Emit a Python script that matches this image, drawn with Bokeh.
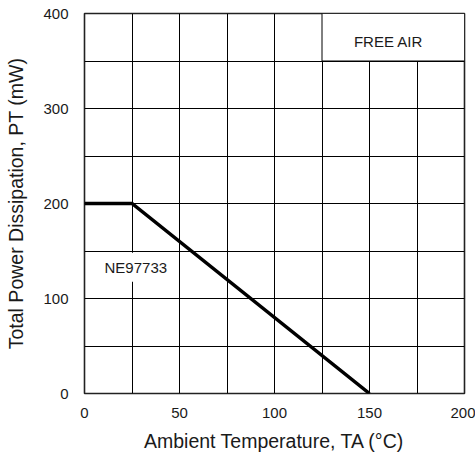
from bokeh.plotting import figure
from bokeh.models import FixedTicker, Label, BoxAnnotation
from bokeh.embed import file_html
from bokeh.resources import INLINE

# Data: derating curve for NE97733
temperature = [0, 25, 150]
power = [200, 200, 0]

x_ticks = [0, 50, 100, 150, 200]
y_ticks = [0, 100, 200, 300, 400]
x_grid = [0, 25, 50, 75, 100, 125, 150, 175, 200]
y_grid = [0, 50, 100, 150, 200, 250, 300, 350, 400]

FONT = "Liberation Sans"
TXT = "#1a1a1a"

p = figure(width=475, height=456, x_range=(0, 200), y_range=(0, 400),
           output_backend="svg", toolbar_location=None,
           min_border_left=84, min_border_right=11,
           min_border_top=13, min_border_bottom=63)

p.outline_line_color = "#222222"
p.outline_line_width = 1.6
p.background_fill_color = "white"
p.border_fill_color = "white"

p.xaxis.ticker = FixedTicker(ticks=x_ticks)
p.yaxis.ticker = FixedTicker(ticks=y_ticks)
p.xgrid.ticker = FixedTicker(ticks=x_grid)
p.ygrid.ticker = FixedTicker(ticks=y_grid)
for g in (p.xgrid, p.ygrid):
    g.grid_line_color = "black"
    g.grid_line_width = 1
    g.grid_line_alpha = 1

for ax in (p.xaxis, p.yaxis):
    ax.axis_line_color = None
    ax.major_tick_line_color = None
    ax.minor_tick_line_color = None
    ax.major_label_text_font = FONT
    ax.major_label_text_font_size = "15px"
    ax.major_label_text_color = TXT
    ax.axis_label_text_font = FONT
    ax.axis_label_text_font_size = "19.5px"
    ax.axis_label_text_font_style = "normal"
    ax.axis_label_text_color = TXT

p.xaxis.major_label_standoff = 8
p.yaxis.major_label_standoff = 10
p.xaxis.axis_label = "Ambient Temperature, TA (°C)"
p.yaxis.axis_label = "Total Power Dissipation, PT (mW)"
p.xaxis.axis_label_standoff = 9
p.yaxis.axis_label_standoff = 13

box = BoxAnnotation(left=125, right=200, bottom=350, top=400,
                    fill_color="white", fill_alpha=1,
                    line_color="black", line_width=1, line_alpha=1)
p.add_layout(box)

p.line(temperature, power, line_color="black", line_width=3.5,
       line_join="miter")

p.add_layout(Label(x=160, y=371, text="FREE AIR", text_align="center",
                   text_baseline="middle", text_font=FONT,
                   text_font_size="15px", text_color=TXT))
p.add_layout(Label(x=27, y=133, text="NE97733", text_align="center",
                   text_baseline="middle", text_font=FONT,
                   text_font_size="15px", text_color=TXT,
                   background_fill_color="white", background_fill_alpha=1,
                   padding=6))

open("out.html", "w").write(file_html(p, INLINE))
